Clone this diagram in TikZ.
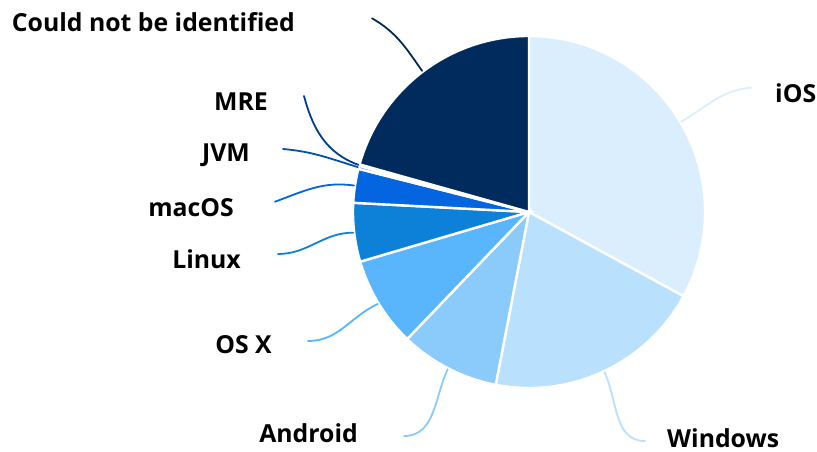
\documentclass[tikz,border=0pt]{standalone}
\usepackage{fontspec}
\setmainfont{Open Sans}
\definecolor{iosblue}{HTML}{DBEEFD}
\definecolor{winblue}{HTML}{B9E0FD}
\definecolor{andblue}{HTML}{8ACBFC}
\definecolor{osxblue}{HTML}{59B5FC}
\definecolor{linblue}{HTML}{0D80D8}
\definecolor{macblue}{HTML}{0366E0}
\definecolor{jvmblue}{HTML}{0050B5}
\definecolor{mreblue}{HTML}{003D8F}
\definecolor{unkblue}{HTML}{002B5C}
\newcommand\pieslice[3][]{
	\begin{scope}[shift = {(529,240)}]
		\fill[#1, draw=white, line width=2.4pt] (0,0) -- (#2:176) arc (#2:#3:176) -- cycle;
	\end{scope}
	}
\newcommand\rim[2]{
	\coordinate (#1) at ($(529,240)+(#2:177)$);
	}

\usetikzlibrary{calc}

\begin{document}
\begin{tikzpicture}[x=1pt, y=1pt, oslabel/.style={font=\fontsize{24.8}{28}\selectfont\bfseries, inner sep=0pt}, leader/.style={line width=1.8pt, line cap=round}]

			\useasboundingbox (0,0) rectangle (817,452);

			% slices, clockwise from the top
			\pieslice[fill=iosblue]{90}{-28.6}
			\pieslice[fill=winblue]{-28.6}{-100.9}
			\pieslice[fill=andblue]{-100.9}{-133.8}
			\pieslice[fill=osxblue]{-133.8}{-163.6}
			\pieslice[fill=linblue]{-163.6}{-183}
			\pieslice[fill=macblue]{-183}{-194.2}
			\pieslice[fill=jvmblue]{-194.2}{-195.2}
			\pieslice[fill=mreblue]{-195.2}{-195.7}
			\pieslice[fill=unkblue]{-195.7}{-270}

			% labels
			\node[oslabel, anchor=west] (ios) at (775,359) {iOS};
			\node[oslabel, anchor=west] (windows) at (667,14) {Windows};
			\node[oslabel, anchor=east] (android) at (358,19) {Android};
			\node[oslabel, anchor=east] (osx) at (272,107) {OS X};
			\node[oslabel, anchor=east] (linux) at (241,193) {Linux};
			\node[oslabel, anchor=east] (macos) at (234,244) {macOS};
			\node[oslabel, anchor=east] (jvm) at (250,297) {JVM};
			\node[oslabel, anchor=east] (mre) at (268,350) {MRE};
			\node[oslabel, anchor=east] (unknown) at (295,430) {Could not be identified};

			% leader lines
			\rim{ios-rim}{30.7}
			\rim{windows-rim}{-64.75}
			\rim{android-rim}{-117.35}
			\rim{osx-rim}{-148.7}
			\rim{linux-rim}{-173.3}
			\rim{macos-rim}{-188.6}
			\rim{jvm-rim}{-194.7}
			\rim{mre-rim}{-195.45}
			\rim{unknown-rim}{-232.85}

			\coordinate (ios-end) at (751,364.3);
			\coordinate (windows-end) at (645,11);
			\coordinate (android-end) at (404,16);
			\coordinate (osx-end) at (308,111);
			\coordinate (linux-end) at (278,198);
			\coordinate (macos-end) at (275,250.3);
			\coordinate (jvm-end) at (283,303);
			\coordinate (mre-end) at (304,356);
			\coordinate (unknown-end) at (372,433.7);

			\draw[leader, iosblue] (ios-rim) to[out=30, in=185] (ios-end);
			\draw[leader, winblue] (windows-rim) to[out=-65, in=180] (windows-end);
			\draw[leader, andblue] (android-rim) to[out=-115, in=0] (android-end);
			\draw[leader, osxblue] (osx-rim) to[out=205, in=0] (osx-end);
			\draw[leader, linblue] (linux-rim) to[out=180, in=0] (linux-end);
			\draw[leader, macblue] (macos-rim) to[out=172, in=20] (macos-end);
			\draw[leader, jvmblue] (jvm-rim) to[out=163, in=-5] (jvm-end);
			\draw[leader, mreblue] (mre-rim) to[out=160, in=-75] (mre-end);
			\draw[leader, unkblue] (unknown-rim) to[out=125, in=-30] (unknown-end);

		\end{tikzpicture}
\end{document}
